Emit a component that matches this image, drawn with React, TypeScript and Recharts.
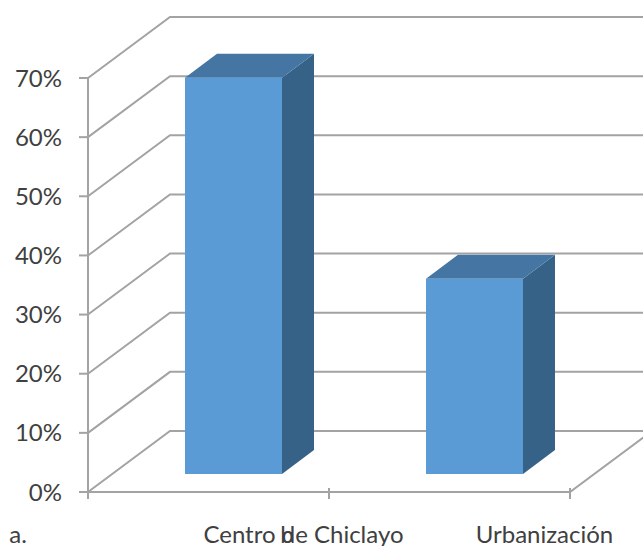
import React from 'react';
import { BarChart, Bar, XAxis, YAxis, CartesianGrid } from 'recharts';

const categories = ['Centro de Chiclayo', 'Urbanización'];
const shares = [67, 33];
const yTicks = [0, 10, 20, 30, 40, 50, 60, 70];
const stubLabels = ['a.', 'b'];

const chartData = categories.map((name, i) => ({ name, share: shares[i] }));

const GRID_COLOR = '#a3a3a3';
const TEXT_COLOR = '#404040';
const FONT = 'Lato, "Open Sans", sans-serif';
const FONT_SIZE = 24;

// Fake 3D: the back wall sits this far behind the axis plane
const WALL_DX = 82;
const WALL_DY = 61;
// Bars sit partway into the floor
const BAR_DX = 25;
const BAR_DY = 18;
const BAR_DEPTH_X = 32;
const BAR_DEPTH_Y = 24;
const BAND = 241;

const WallLine = ({ x1, y1, x2, index }: any) => {
  const bx = x1 + WALL_DX;
  const by = y1 - WALL_DY;
  return (
    <g key={index}>
      <polyline
        points={`${x1},${y1} ${bx},${by} ${x2 + WALL_DX},${by}`}
        fill="none"
        stroke={GRID_COLOR}
        strokeWidth={2}
      />
      {index === 0 || y1 > 480 ? (
        <polyline
          points={`${x1},${y1} ${x2},${y1} ${x2 + WALL_DX},${by}`}
          fill="none"
          stroke={GRID_COLOR}
          strokeWidth={2}
        />
      ) : null}
    </g>
  );
};

const Box = ({ x, y, width, height }: any) => {
  const left = x + BAR_DX;
  const top = y - BAR_DY;
  const right = left + width;
  const bottom = top + height;
  return (
    <g>
      <polygon
        points={`${right},${top} ${right + BAR_DEPTH_X},${top - BAR_DEPTH_Y} ${right + BAR_DEPTH_X},${bottom - BAR_DEPTH_Y} ${right},${bottom}`}
        fill="#376287"
      />
      <polygon
        points={`${left},${top} ${left + BAR_DEPTH_X},${top - BAR_DEPTH_Y} ${right + BAR_DEPTH_X},${top - BAR_DEPTH_Y} ${right},${top}`}
        fill="#4575a2"
      />
      <rect x={left} y={top} width={width} height={height} fill="#5b9bd5" />
    </g>
  );
};

const CategoryTick = ({ x, y, payload, index }: any) => {
  const tickTop = y - 12;
  return (
    <g>
      <line x1={x - BAND / 2} x2={x - BAND / 2} y1={tickTop} y2={tickTop + 11} stroke={GRID_COLOR} strokeWidth={2} />
      <line x1={x + BAND / 2} x2={x + BAND / 2} y1={tickTop} y2={tickTop + 11} stroke={GRID_COLOR} strokeWidth={2} />
      <text x={x + 95} y={543} textAnchor="middle" fontSize={FONT_SIZE} fontFamily={FONT} fill={TEXT_COLOR}>
        {payload.value}
      </text>
      {index === 0 ? (
        <>
          <text x={18} y={543} textAnchor="middle" fontSize={FONT_SIZE} fontFamily={FONT} fill={TEXT_COLOR}>
            {stubLabels[0]}
          </text>
          <text x={287} y={543} textAnchor="middle" fontSize={FONT_SIZE} fontFamily={FONT} fill={TEXT_COLOR}>
            {stubLabels[1]}
          </text>
        </>
      ) : null}
    </g>
  );
};

export default function App() {
  return (
    <div style={{ position: 'absolute', left: 0, top: 0, width: 643, height: 546, overflow: 'hidden', background: '#fff' }}>
      <BarChart
        width={643}
        height={546}
        data={chartData}
        margin={{ top: 78, right: 73, bottom: 0, left: 0 }}
        style={{ overflow: 'hidden' }}
      >
        <CartesianGrid vertical={false} horizontal={(props: any) => <WallLine {...props} />} />
        <XAxis
          dataKey="name"
          height={54}
          interval={0}
          axisLine={false}
          tickLine={false}
          tick={(props: any) => <CategoryTick {...props} />}
        />
        <YAxis
          width={88}
          domain={[0, 70]}
          ticks={yTicks}
          interval={0}
          tickFormatter={(v: number) => `${v}%`}
          axisLine={{ stroke: GRID_COLOR, strokeWidth: 2 }}
          tickLine={{ stroke: GRID_COLOR, strokeWidth: 2 }}
          tickSize={9}
          tickMargin={17}
          tick={{ fontSize: FONT_SIZE, fontFamily: FONT, fill: TEXT_COLOR }}
        />
        <Bar dataKey="share" barSize={97} isAnimationActive={false} shape={(props: any) => <Box {...props} />} />
      </BarChart>
    </div>
  );
}
